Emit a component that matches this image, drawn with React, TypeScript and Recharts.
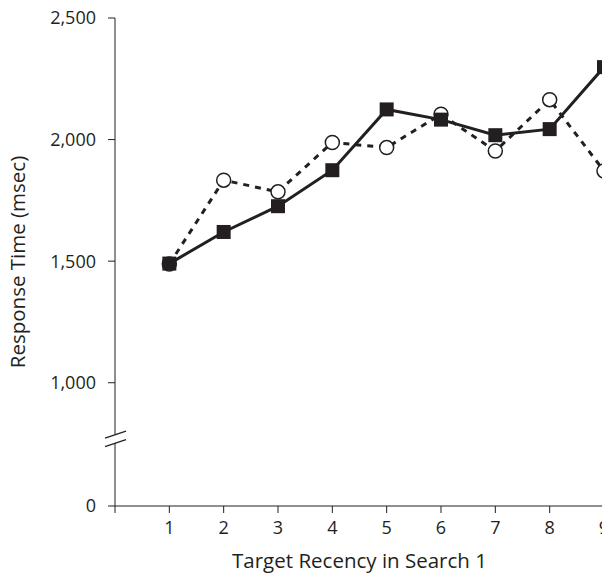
import React from 'react';
import { LineChart, Line, XAxis, YAxis, ReferenceDot } from 'recharts';

const recency = [1, 2, 3, 4, 5, 6, 7, 8, 9];
const squareSeries = [1490, 1620, 1726, 1874, 2124, 2082, 2018, 2043, 2298];
const circleSeries = [1488, 1833, 1785, 1988, 1967, 2104, 1953, 2164, 1871];

const xTicks = [0, 1, 2, 3, 4, 5, 6, 7, 8, 9];
// the axis is broken below 1,000; ZERO_AT is where "0" sits on the shown scale
const ZERO_AT = 493;
const BREAK_AT = 769;
const yTicks = [ZERO_AT, 1000, 1500, 2000, 2500];

const ink = '#231f20';
const font = '"Open Sans", sans-serif';

const data = recency.map((r, i) => ({ recency: r, square: squareSeries[i], circle: circleSeries[i] }));

const SquareDot = (props: any) => {
  const { cx, cy } = props;
  if (cx == null || cy == null) return null;
  return <rect x={cx - 7} y={cy - 7} width={14} height={14} fill={ink} />;
};

const CircleDot = (props: any) => {
  const { cx, cy } = props;
  if (cx == null || cy == null) return null;
  return <circle cx={cx} cy={cy} r={7} fill="#fff" stroke={ink} strokeWidth={1.5} />;
};

const AxisBreak = (props: any) => {
  const { cx, cy } = props;
  if (cx == null || cy == null) return null;
  return (
    <g>
      <polygon
        points={`${cx - 3},${cy - 3.3} ${cx + 3},${cy - 5.3} ${cx + 3},${cy + 3.2} ${cx - 3},${cy + 5.2}`}
        fill="#fff"
      />
      <line x1={cx - 10} y1={cy - 0.8} x2={cx + 11} y2={cy - 7.8} stroke={ink} strokeWidth={1.3} />
      <line x1={cx - 10} y1={cy + 7.7} x2={cx + 11} y2={cy + 0.7} stroke={ink} strokeWidth={1.3} />
    </g>
  );
};

const fmtY = (v: number) => (v === ZERO_AT ? '0' : v.toLocaleString('en-US'));

const App = () => {
  return (
    <div style={{ margin: -8 }}>
      <LineChart width={610} height={583} data={data} margin={{ top: 18, right: 6, bottom: 0, left: 0 }}>
        <XAxis
          type="number"
          dataKey="recency"
          domain={[0, 9]}
          ticks={xTicks}
          tickFormatter={(v: number) => (v === 0 ? '' : String(v))}
          height={77}
          tickSize={7}
          tickMargin={8}
          stroke={ink}
          tick={{ fill: ink, fontSize: 18, fontFamily: font }}
          label={{ value: 'Target Recency in Search 1', position: 'insideBottom', offset: 15, fill: ink, fontSize: 20.5, fontFamily: font }}
        />
        <YAxis
          type="number"
          domain={[ZERO_AT, 2500]}
          ticks={yTicks}
          tickFormatter={fmtY}
          width={115}
          tickSize={7}
          tickMargin={12}
          stroke={ink}
          tick={{ fill: ink, fontSize: 18, fontFamily: font }}
          label={{
            value: 'Response Time (msec)',
            angle: -90,
            position: 'insideLeft',
            offset: 18,
            fill: ink,
            fontSize: 20.5,
            fontFamily: font,
            style: { textAnchor: 'middle' },
          }}
        />
        <ReferenceDot x={0} y={BREAK_AT} shape={AxisBreak} />
        <Line
          dataKey="circle"
          stroke={ink}
          strokeWidth={3}
          strokeDasharray="6 6"
          dot={CircleDot}
          activeDot={false}
          isAnimationActive={false}
        />
        <Line
          dataKey="square"
          stroke={ink}
          strokeWidth={3}
          dot={SquareDot}
          activeDot={false}
          isAnimationActive={false}
        />
      </LineChart>
    </div>
  );
};

export default App;
